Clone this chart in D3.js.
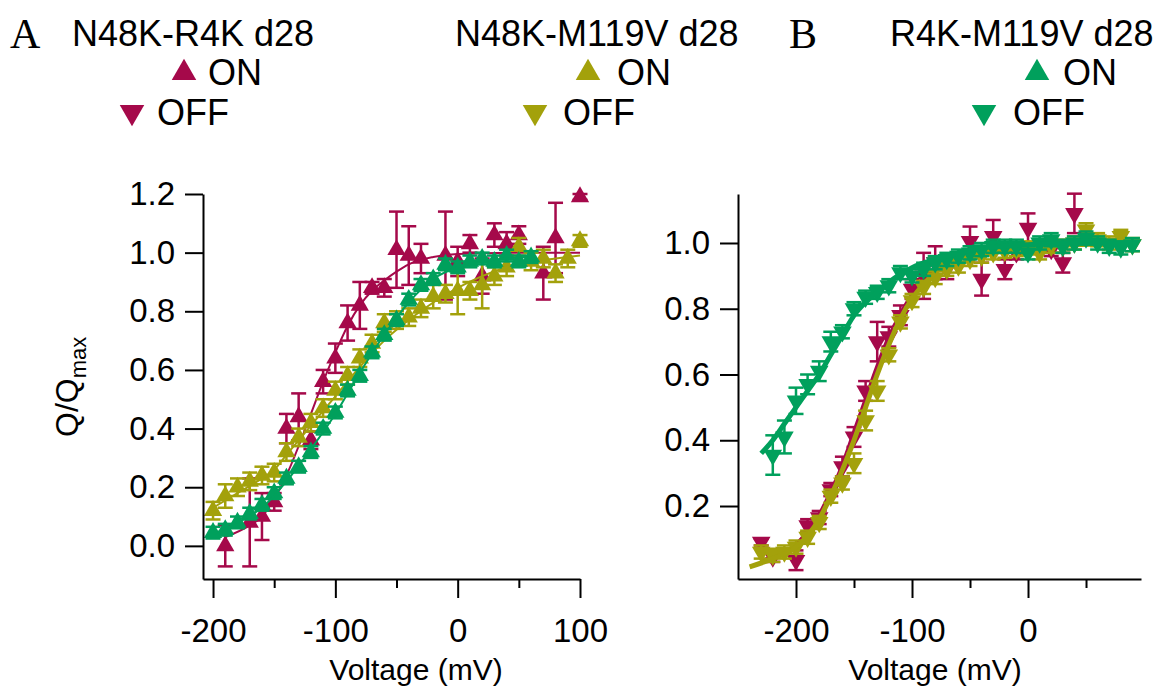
<!DOCTYPE html>
<html>
<head>
<meta charset="utf-8">
<script src="https://cdn.jsdelivr.net/npm/d3@7"></script>
<style>
  body { margin: 0; background: #fff; }
  svg { display: block; font-family: 'Liberation Sans', Arial, sans-serif; }
</style>
</head>
<body>
<script>
// ---- Panel A : ON charge (up triangles) ----
const aRedV = [-190, -170, -160, -150, -140, -130, -120, -110, -100, -90, -80, -70, -60, -50, -40, -30, -10, 0, 10, 20, 30, 40, 50, 70, 80, 100]
const aRedQ = [0.00, 0.08, 0.10, 0.15, 0.40, 0.44, 0.36, 0.56, 0.64, 0.76, 0.82, 0.88, 0.88, 1.01, 0.99, 0.98, 0.99, 0.97, 1.03, 0.92, 1.06, 1.03, 1.06, 0.93, 1.05, 1.19]
const aRedErr = [0.07, 0.15, 0.08, 0.03, 0.05, 0.08, 0.03, 0.04, 0.05, 0.06, 0.08, 0.02, 0.03, 0.13, 0.10, 0.05, 0.15, 0.05, 0.03, 0.06, 0.04, 0.04, 0.03, 0.09, 0.12, 0.01]

const aOliveV = [-200, -190, -180, -170, -160, -150, -140, -130, -120, -110, -100, -90, -80, -70, -60, -50, -40, -30, -20, -10, 0, 10, 20, 30, 40, 50, 60, 70, 80, 90, 100]
const aOliveQ = [0.12, 0.17, 0.20, 0.22, 0.24, 0.25, 0.32, 0.37, 0.42, 0.47, 0.53, 0.58, 0.64, 0.69, 0.76, 0.77, 0.78, 0.81, 0.85, 0.86, 0.87, 0.87, 0.89, 0.92, 0.95, 1.02, 0.97, 0.98, 0.93, 0.98, 1.04]
const aOliveErr = [0.03, 0.04, 0.03, 0.03, 0.03, 0.03, 0.03, 0.03, 0.03, 0.03, 0.03, 0.03, 0.03, 0.03, 0.03, 0.03, 0.03, 0.03, 0.04, 0.03, 0.08, 0.03, 0.08, 0.03, 0.03, 0.03, 0.03, 0.03, 0.03, 0.03, 0.02]

const aGreenV = [-200, -190, -180, -170, -160, -150, -140, -130, -120, -110, -100, -90, -80, -70, -60, -50, -40, -30, -20, -10, 0, 10, 20, 30, 40, 50, 60]
const aGreenQ = [0.045, 0.055, 0.08, 0.11, 0.14, 0.18, 0.23, 0.27, 0.32, 0.40, 0.455, 0.53, 0.58, 0.66, 0.72, 0.77, 0.84, 0.89, 0.91, 0.96, 0.95, 0.97, 0.98, 0.97, 0.99, 0.97, 0.985]
const aGreenErr = [0.02, 0.02, 0.02, 0.02, 0.02, 0.02, 0.02, 0.02, 0.02, 0.02, 0.02, 0.02, 0.02, 0.02, 0.02, 0.02, 0.02, 0.02, 0.02, 0.02, 0.02, 0.02, 0.02, 0.02, 0.02, 0.02, 0.02]

// fitted curves
const aRedFitV = [-190, -170, -160, -150, -140, -130, -120, -110, -100, -90, -80, -70, -60, -50, -40, -20, 0, 50, 100]
const aRedFitQ = [0.03, 0.07, 0.10, 0.16, 0.24, 0.34, 0.45, 0.56, 0.66, 0.75, 0.82, 0.87, 0.905, 0.935, 0.96, 0.985, 0.995, 1.0, 1.0]
const aOliveFitV = [-200, -180, -160, -150, -140, -120, -100, -80, -60, -40, -20, 0, 20, 40, 60, 80, 100]
const aOliveFitQ = [0.13, 0.18, 0.23, 0.26, 0.31, 0.41, 0.51, 0.61, 0.70, 0.77, 0.83, 0.88, 0.92, 0.95, 0.97, 0.98, 0.99]
const aGreenFitV = [-200, -180, -160, -140, -120, -100, -80, -60, -40, -20, 0, 20, 40, 60]
const aGreenFitQ = [0.04, 0.08, 0.13, 0.22, 0.33, 0.45, 0.59, 0.72, 0.83, 0.91, 0.95, 0.97, 0.98, 0.985]

// ---- Panel B : OFF charge (down triangles) ----
const bRedV = [-230, -220, -200, -190, -180, -170, -160, -150, -140, -130, -120, -110, -100, -90, -80, -70, -50, -40, -30, -20, -10, 0, 10, 20, 30, 40]
const bRedQ = [0.09, 0.045, 0.035, 0.14, 0.165, 0.25, 0.32, 0.41, 0.55, 0.70, 0.715, 0.78, 0.86, 0.90, 0.94, 0.92, 1.005, 0.89, 1.02, 0.92, 0.97, 1.045, 0.99, 0.98, 0.94, 1.09]
const bRedErr = [0.01, 0.015, 0.03, 0.02, 0.02, 0.02, 0.03, 0.03, 0.03, 0.06, 0.03, 0.03, 0.03, 0.07, 0.05, 0.03, 0.045, 0.05, 0.05, 0.03, 0.02, 0.045, 0.02, 0.02, 0.03, 0.06]

const bOliveV = [-230, -220, -210, -200, -190, -180, -170, -160, -150, -140, -130, -120, -110, -100, -90, -80, -70, -60, -50, -40, -30, -20, -10, 0, 10, 20, 30, 40, 50, 60, 70, 80, 90]
const bOliveQ = [0.06, 0.05, 0.06, 0.075, 0.105, 0.15, 0.23, 0.27, 0.33, 0.46, 0.55, 0.66, 0.76, 0.825, 0.865, 0.895, 0.92, 0.93, 0.95, 0.96, 0.97, 0.975, 0.98, 0.985, 0.97, 0.99, 0.99, 1.0, 1.04, 1.01, 1.0, 1.02, 0.995]
const bOliveErr = [0.02, 0.02, 0.02, 0.02, 0.02, 0.02, 0.02, 0.02, 0.03, 0.03, 0.03, 0.02, 0.02, 0.02, 0.02, 0.02, 0.02, 0.02, 0.02, 0.02, 0.02, 0.02, 0.02, 0.02, 0.02, 0.02, 0.02, 0.02, 0.02, 0.02, 0.02, 0.02, 0.02]

const bGreenV = [-220, -210, -200, -190, -180, -170, -160, -150, -140, -130, -120, -110, -100, -90, -80, -70, -60, -50, -40, -30, -20, -10, 0, 10, 20, 30, 40, 50, 60, 70, 80, 90]
const bGreenQ = [0.355, 0.41, 0.52, 0.57, 0.61, 0.70, 0.73, 0.80, 0.835, 0.85, 0.87, 0.91, 0.90, 0.92, 0.94, 0.95, 0.96, 0.97, 0.98, 0.99, 0.99, 0.99, 0.97, 1.0, 1.01, 0.99, 1.0, 1.015, 1.0, 0.99, 0.985, 0.995]
const bGreenErr = [0.06, 0.05, 0.04, 0.03, 0.03, 0.03, 0.02, 0.02, 0.02, 0.02, 0.02, 0.02, 0.02, 0.02, 0.02, 0.02, 0.02, 0.02, 0.02, 0.02, 0.02, 0.02, 0.02, 0.02, 0.02, 0.02, 0.02, 0.02, 0.02, 0.02, 0.02, 0.02]

const bRedFitV = [-230, -220, -200, -190, -180, -170, -160, -150, -140, -130, -120, -110, -100, -90, -80, -60, -40, 0, 40]
const bRedFitQ = [0.03, 0.045, 0.08, 0.12, 0.17, 0.24, 0.32, 0.42, 0.52, 0.62, 0.71, 0.78, 0.84, 0.88, 0.92, 0.96, 0.98, 0.99, 1.0]
const bOliveFitV = [-240, -220, -200, -190, -180, -170, -160, -150, -140, -130, -120, -110, -100, -90, -80, -70, -60, -40, -20, 0, 40, 90]
const bOliveFitQ = [0.015, 0.04, 0.075, 0.11, 0.16, 0.23, 0.31, 0.40, 0.50, 0.60, 0.69, 0.77, 0.83, 0.875, 0.91, 0.935, 0.955, 0.975, 0.985, 0.99, 0.995, 1.0]
const bGreenFitV = [-230, -220, -210, -200, -190, -180, -170, -160, -150, -140, -130, -120, -110, -100, -80, -60, -40, -20, 0, 40, 90]
const bGreenFitQ = [0.36, 0.40, 0.45, 0.50, 0.55, 0.60, 0.66, 0.72, 0.78, 0.82, 0.85, 0.88, 0.905, 0.925, 0.95, 0.97, 0.985, 0.99, 0.995, 1.0, 1.0]

// ticks
const aYTicks = [0, 0.2, 0.4, 0.6, 0.8, 1.0, 1.2]
const bYTicks = [0.2, 0.4, 0.6, 0.8, 1.0]
const aXMajor = [-200, -100, 0, 100]
const aXMinor = [-150, -50, 50]
const bXMajor = [-200, -100, 0]
const bXMinor = [-150, -50, 50]

const red = '#a5094a'
const olive = '#a3a10b'
const green = '#00a05c'

const toPoints = (v, q, e) => v.map((d, i) => ({ v: d, q: q[i], e: e ? e[i] : 0 }))

const width = 1157
const height = 690
const svg = d3.select('body').append('svg').attr('width', width).attr('height', height)

function drawPanel({ xDomain, xRange, yDomain, yRange, yTicks, xMajor, xMinor, layers, down, symSize, capW, fitW, titleX }) {
  const x = d3.scaleLinear().domain(xDomain).range(xRange)
  const y = d3.scaleLinear().domain(yDomain).range(yRange)
  const g = svg.append('g')

  const line = d3.line().x(d => x(d.v)).y(d => y(d.q)).curve(d3.curveMonotoneX)
  const sym = d3.symbol().type(d3.symbolTriangle).size(symSize)

  layers.forEach(l => {
    const pts = toPoints(l.v, l.q, l.e)
    const eb = g.append('g').attr('stroke', l.color).attr('stroke-width', 2.5)
    eb.selectAll('line.bar').data(pts).join('line')
      .attr('x1', d => x(d.v)).attr('x2', d => x(d.v))
      .attr('y1', d => y(d.q - d.e)).attr('y2', d => y(d.q + d.e))
    eb.selectAll('line.top').data(pts).join('line').attr('class', 'top')
      .attr('x1', d => x(d.v) - capW / 2).attr('x2', d => x(d.v) + capW / 2)
      .attr('y1', d => y(d.q + d.e)).attr('y2', d => y(d.q + d.e))
    eb.selectAll('line.bot').data(pts).join('line').attr('class', 'bot')
      .attr('x1', d => x(d.v) - capW / 2).attr('x2', d => x(d.v) + capW / 2)
      .attr('y1', d => y(d.q - d.e)).attr('y2', d => y(d.q - d.e))

    g.append('g').selectAll('path').data(pts).join('path')
      .attr('d', sym)
      .attr('fill', l.color)
      .attr('transform', d => `translate(${x(d.v)},${y(d.q)})` + (down ? ' rotate(180)' : ''))

    g.append('path')
      .datum(toPoints(l.fitV, l.fitQ))
      .attr('fill', 'none')
      .attr('stroke', l.color)
      .attr('stroke-width', fitW)
      .attr('d', line)
  })

  // axes
  const yAxis = g.append('g')
    .attr('transform', `translate(${xRange[0]},0)`)
    .call(d3.axisLeft(y).tickValues(yTicks).tickSize(18).tickSizeOuter(0).tickPadding(10).tickFormat(d3.format('.1f')))
  yAxis.attr('font-size', 33).attr('font-family', null)

  const xAxis = g.append('g')
    .attr('transform', `translate(0,${yRange[0]})`)
    .call(d3.axisBottom(x).tickValues(xMajor).tickSize(19).tickSizeOuter(0).tickFormat(d => String(d)))
  xAxis.attr('font-size', 33).attr('font-family', null)
  xAxis.selectAll('text').attr('y', 63).attr('dy', 0)

  g.append('g')
    .attr('transform', `translate(0,${yRange[0]})`)
    .call(d3.axisBottom(x).tickValues(xMinor).tickSize(9).tickSizeOuter(0).tickFormat(''))
    .call(a => a.select('.domain').remove())

  g.selectAll('.domain, .tick line').attr('stroke', '#000').attr('stroke-width', 2)
  g.selectAll('.tick text').attr('fill', '#000')

  g.append('text')
    .attr('x', titleX).attr('y', 680)
    .attr('text-anchor', 'middle')
    .attr('font-size', 30)
    .text('Voltage (mV)')
}

drawPanel({
  xDomain: [-208.2, 100], xRange: [203, 580],
  yDomain: [-0.113, 1.2], yRange: [579, 194],
  yTicks: aYTicks, xMajor: aXMajor, xMinor: aXMinor,
  down: false, symSize: 145, capW: 15, fitW: 2, titleX: 416,
  layers: [
    { v: aRedV, q: aRedQ, e: aRedErr, fitV: aRedFitV, fitQ: aRedFitQ, color: red },
    { v: aOliveV, q: aOliveQ, e: aOliveErr, fitV: aOliveFitV, fitQ: aOliveFitQ, color: olive },
    { v: aGreenV, q: aGreenQ, e: aGreenErr, fitV: aGreenFitV, fitQ: aGreenFitQ, color: green },
  ],
})

drawPanel({
  xDomain: [-250, 97.4], xRange: [738, 1141],
  yDomain: [-0.022, 1.149], yRange: [579, 194],
  yTicks: bYTicks, xMajor: bXMajor, xMinor: bXMinor,
  down: true, symSize: 150, capW: 15, fitW: 5, titleX: 935,
  layers: [
    { v: bRedV, q: bRedQ, e: bRedErr, fitV: bRedFitV, fitQ: bRedFitQ, color: red },
    { v: bOliveV, q: bOliveQ, e: bOliveErr, fitV: bOliveFitV, fitQ: bOliveFitQ, color: olive },
    { v: bGreenV, q: bGreenQ, e: bGreenErr, fitV: bGreenFitV, fitQ: bGreenFitQ, color: green },
  ],
})

// y axis title, panel A
const yt = svg.append('text')
  .attr('transform', 'translate(78,437) rotate(-90)')
  .attr('font-size', 32)
yt.append('tspan').text('Q/Q')
yt.append('tspan').attr('font-size', 22).attr('dy', 8).text('max')

// panel letters
svg.append('text').attr('x', 10).attr('y', 48).attr('font-family', "'Liberation Serif', 'Times New Roman', serif").attr('font-size', 42).text('A')
svg.append('text').attr('x', 789).attr('y', 48).attr('font-family', "'Liberation Serif', 'Times New Roman', serif").attr('font-size', 42).text('B')

// legends
const legends = [
  { title: 'N48K-R4K d28', tx: 72, upX: 184, onX: 208, dnX: 132, offX: 157, color: red },
  { title: 'N48K-M119V d28', tx: 455, upX: 588, onX: 617, dnX: 535, offX: 563, color: olive },
  { title: 'R4K-M119V d28', tx: 890, upX: 1037, onX: 1063, dnX: 984, offX: 1013, color: green },
]
const legSym = d3.symbol().type(d3.symbolTriangle).size(260)
const leg = svg.append('g').attr('font-size', 36)
legends.forEach(l => {
  leg.append('text').attr('x', l.tx).attr('y', 46).text(l.title)
  leg.append('path').attr('d', legSym).attr('fill', l.color).attr('transform', `translate(${l.upX},73)`)
  leg.append('text').attr('x', l.onX).attr('y', 85).text('ON')
  leg.append('path').attr('d', legSym).attr('fill', l.color).attr('transform', `translate(${l.dnX},112) rotate(180)`)
  leg.append('text').attr('x', l.offX).attr('y', 125).text('OFF')
})
</script>
</body>
</html>
